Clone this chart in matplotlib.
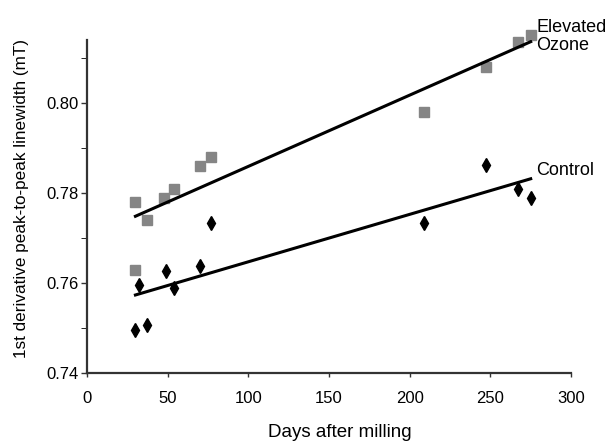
import numpy as np
import matplotlib
matplotlib.use('Agg')
import matplotlib.pyplot as plt

plt.rcParams['font.family'] = ['Liberation Sans', 'DejaVu Sans']

# elevated ozone (grey squares)
oz_days = np.array([30, 30, 37, 48, 54, 70, 77, 209, 247, 267, 275])
oz_lw   = np.array([0.778, 0.763, 0.774, 0.779, 0.781, 0.786, 0.788, 0.798, 0.808, 0.8136, 0.8151])

# control (black diamonds)
ct_days = np.array([30, 32, 37, 49, 54, 70, 77, 209, 247, 267, 275])
ct_lw   = np.array([0.7496, 0.7596, 0.7507, 0.7627, 0.7589, 0.7638, 0.7733, 0.7733, 0.7862, 0.7809, 0.7789])

xmin, xmax = 0, 300
ymin, ymax = 0.74, 0.814

fig = plt.figure(figsize=(6.15, 4.42), dpi=100)
ax = fig.add_axes([0.1415, 0.1561, 0.787, 0.7534])

ax.plot(oz_days, oz_lw, 's', color='#858585', markersize=6.5, clip_on=False)
ax.plot(ct_days, ct_lw, 'd', color='black', markersize=7.5, clip_on=False)

# linear fits
xf = np.array([30, 275])
p_oz = np.polyfit(oz_days, oz_lw, 1)
p_ct = np.polyfit(ct_days, ct_lw, 1)
ax.plot(xf, np.polyval(p_oz, xf), color='black', lw=2.2)
ax.plot(xf, np.polyval(p_ct, xf), color='black', lw=2.2)

ax.text(278.5, np.polyval(p_oz, 275) + 0.0011, 'Elevated\nOzone', fontsize=13,
        va='center', ha='left', linespacing=1.1)
ax.text(278.5, np.polyval(p_ct, 275) + 0.0018, 'Control', fontsize=13,
        va='center', ha='left')

ax.set_xlim(xmin, xmax)
ax.set_ylim(ymin, ymax)
ax.set_xticks(np.arange(0, 301, 50))
ax.set_yticks(np.arange(0.74, 0.801, 0.02))
ax.set_yticklabels(['0.74', '0.76', '0.78', '0.80'])
ax.set_yticks(np.arange(0.75, 0.815, 0.02), minor=True)
ax.tick_params(axis='both', labelsize=12, width=1, color='#333333')
ax.tick_params(axis='x', direction='out', length=3, pad=10)
ax.tick_params(axis='y', which='both', direction='out', length=4, pad=2)
for s in ['top', 'right']:
    ax.spines[s].set_visible(False)
for s in ['left', 'bottom']:
    ax.spines[s].set_linewidth(1.6)
    ax.spines[s].set_color('#333333')

ax.set_xlabel('Days after milling', fontsize=13.5)
ax.set_ylabel('1st derivative peak-to-peak linewidth (mT)', fontsize=12.3)
ax.xaxis.set_label_coords(0.522, -0.153)
ax.yaxis.set_label_coords(-0.12, 0.525)

fig.savefig('out.png', dpi=100)
